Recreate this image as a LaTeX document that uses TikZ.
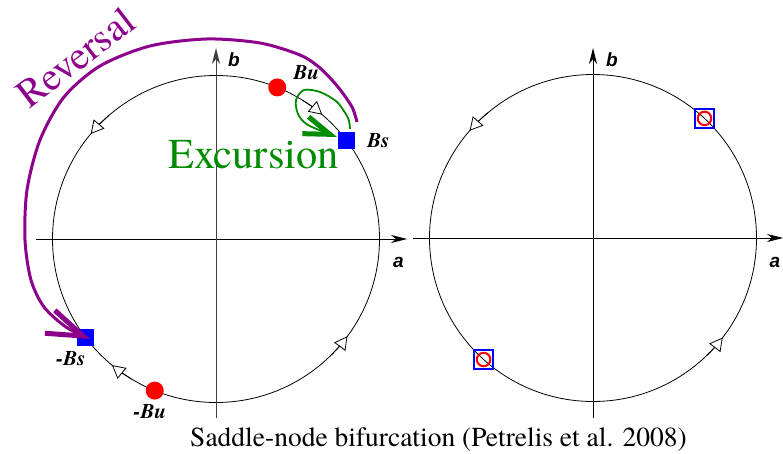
\documentclass[tikz,border=0pt]{standalone}
\usepackage{fontspec}
\setmainfont{TeX Gyre Termes}
\newfontfamily\axfont{Liberation Sans}
\usetikzlibrary{arrows.meta,calc}
\definecolor{revpurple}{RGB}{140,0,140}
\definecolor{excgreen}{RGB}{0,140,0}
\begin{document}
\begin{tikzpicture}[x=1pt,y=1pt,
  axisline/.style={line width=0.9pt,-{Stealth[length=16pt,width=8pt,inset=5pt]}},
  orbit/.style={line width=0.8pt},
  flowtip/.style={line width=0.8pt,-{Triangle[length=13pt,width=14pt,fill=white]}},
  axlabel/.style={font=\axfont\bfseries\itshape\fontsize{19}{19}\selectfont,inner sep=0pt},
  ptlabel/.style={font=\bfseries\itshape\fontsize{21}{21}\selectfont,inner sep=0pt},
  unstabledot/.style={circle,fill=red,minimum size=18pt,inner sep=0pt},
  stablesq/.style={rectangle,fill=blue,minimum size=17.5pt,inner sep=0pt},
  sqmark/.style={rectangle,draw=blue,line width=2pt,minimum size=19pt,inner sep=0pt},
  ringmark/.style={circle,draw=red,line width=2pt,minimum size=13.5pt,inner sep=0pt},
  revarrow/.style={revpurple,line width=3pt,-{Straight Barb[length=36pt,width=25pt,line width'=5pt]}},
  excarrow/.style={excgreen,line width=1.8pt,-{Straight Barb[length=26pt,width=18pt,line width'=5pt]}}
]
\useasboundingbox (0,0) rectangle (783,-454);
\def\orbR{163.5}
\coordinate (L) at (216,-239);
\coordinate (R) at (593,-238);

% orbits
\draw[orbit] (L) circle[radius=\orbR];
\draw[orbit] (R) circle[radius=\orbR];

% axes
\coordinate (Lx0) at (36,-239);  \coordinate (Lx1) at (407,-239);
\coordinate (Ly0) at (216,-418); \coordinate (Ly1) at (216,-48);
\coordinate (Rx0) at (413,-238); \coordinate (Rx1) at (783,-238);
\coordinate (Ry0) at (593,-418); \coordinate (Ry1) at (593,-48);
\draw[axisline] (Lx0) -- (Lx1);
\draw[axisline,black!75] (Ly0) -- (Ly1);
\draw[axisline] (Rx0) -- (Rx1);
\draw[axisline] (Ry0) -- (Ry1);
\node[axlabel] (la) at (398.5,-262) {a};
\node[axlabel] (lb) at (234,-60) {b};
\node[axlabel] (ra) at (775,-262) {a};
\node[axlabel] (rb) at (612,-60) {b};

% flow direction tips
\draw[flowtip] ($(L)+(131:\orbR)$) arc[start angle=131,end angle=140,radius=\orbR];
\draw[flowtip] ($(L)+(58:\orbR)$) arc[start angle=58,end angle=49.5,radius=\orbR];
\draw[flowtip] ($(L)+(239:\orbR)$) arc[start angle=239,end angle=230.5,radius=\orbR];
\draw[flowtip] ($(L)+(315:\orbR)$) arc[start angle=315,end angle=323.5,radius=\orbR];
\draw[flowtip] ($(R)+(130:\orbR)$) arc[start angle=130,end angle=139,radius=\orbR];
\draw[flowtip] ($(R)+(314:\orbR)$) arc[start angle=314,end angle=322.5,radius=\orbR];

% fixed points, left
\node[unstabledot] (Bu) at ($(L)+(68:\orbR)$) {};
\node[stablesq] (Bs) at ($(L)+(37:\orbR)$) {};
\node[stablesq] (mBs) at ($(L)+(217:\orbR)$) {};
\node[unstabledot] (mBu) at ($(L)+(248:\orbR)$) {};
\node[ptlabel] (tBu) at (306.5,-73) {Bu};
\node[ptlabel] (tBs) at (378.5,-140.5) {Bs};
\node[ptlabel] (tmBs) at (71,-359) {-Bs};
\node[ptlabel] (tmBu) at (150,-412) {-Bu};

% fixed points, right (merged)
\node[sqmark] (rUs) at ($(R)+(47:\orbR)$) {};
\node[ringmark] (rUc) at (rUs) {};
\node[sqmark] (rLs) at ($(R)+(228:\orbR)$) {};
\node[ringmark] (rLc) at (rLs) {};

% excursion
\coordinate (excS) at (350,-129);
\coordinate (excE) at (337,-137);
\draw[excarrow] plot[smooth] coordinates {(excS) (348,-118) (337,-102) (320,-92) (304,-90) (296,-100) (298,-114) (308,-125) (excE)};
\node[font=\fontsize{42.5}{42.5}\selectfont,text=excgreen,anchor=base,inner sep=0pt] (exc) at (253.5,-169) {Excursion};

% reversal
\coordinate (revS) at (357,-122);
\coordinate (revE) at (90,-339);
\draw[revarrow] plot[smooth] coordinates {(revS) (352,-107) (338,-87) (320,-68) (300,-55) (260,-43) (207,-39) (150,-46) (100,-66) (64,-97) (40,-140) (27,-190) (25,-240) (31,-280) (44,-307) (66,-327) (revE)};
\node[font=\fontsize{40}{40}\selectfont,text=revpurple,anchor=base,inner sep=0pt,rotate=37.5] (rev) at (84,-68) {Reversal};

% caption
\node[font=\fontsize{27.5}{27.5}\selectfont,anchor=base,inner sep=0pt] (cap) at (438.5,-446) {Saddle-node bifurcation (Petrelis et al. 2008)};
\end{tikzpicture}
\end{document}
